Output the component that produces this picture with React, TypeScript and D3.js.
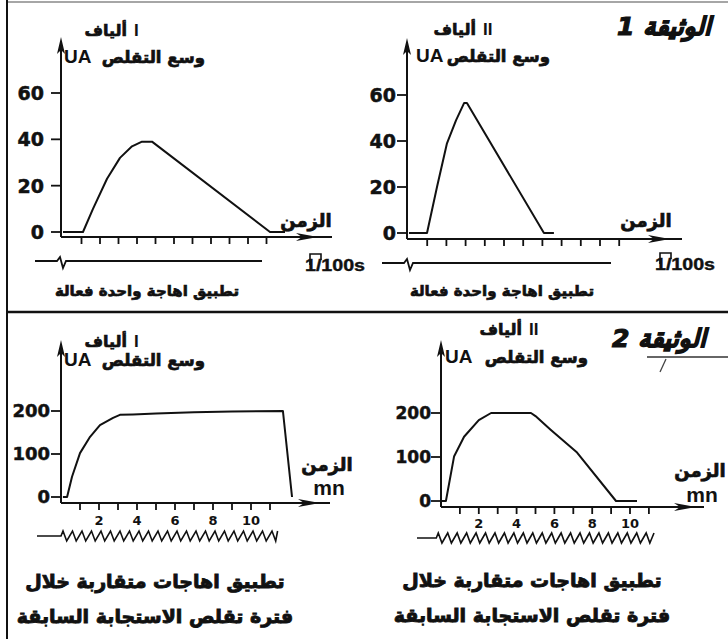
import React from 'react';
import * as d3 from 'd3';

// ---------- DATA ----------
// Document 1 : one effective stimulus, time in 1/100 s
const doc1TimesI = [0, 1.08, 1.62, 2.38, 3.08, 3.73, 4.27, 4.81, 11.19, 12.0];
const doc1ValuesI = [0, 0, 10, 23, 32, 37, 39, 39, 0, 0];
const doc1TimesII = [0.05, 0.99, 1.51, 2.03, 2.5, 2.92, 3.07, 7.08, 7.6];
const doc1ValuesII = [0, 0, 20, 39, 49, 56.5, 56.5, 0, 0];
const doc1YTicks = [0, 20, 40, 60];
const doc1XTicks = [1, 2, 3, 4, 5, 6, 7, 8, 9, 10, 11];

// Document 2 : close successive stimuli, time in mn
const doc2TimesI = [0.1, 0.32, 0.58, 1.0, 1.53, 2.05, 2.74, 3.1, 3.79, 5, 7, 9, 11.68, 12.16];
const doc2ValuesI = [0, 0, 47, 102, 140, 167, 184, 191, 192, 194, 197, 199, 200, 0];
const doc2TimesII = [0, 0.26, 0.69, 1.22, 2.0, 2.65, 4.76, 5.0, 5.8, 7.2, 9.26, 10.37];
const doc2ValuesII = [0, 0, 101, 146, 184, 200, 200, 193, 162, 110, 0, 0];
const doc2YTicks = [0, 100, 200];
const doc2XTicks = [1, 2, 3, 4, 5, 6, 7, 8, 9, 10, 11];
const doc2XTickLabels = [2, 4, 6, 8, 10];
const doc2StimTimesI = [0, 0.5, 1, 1.5, 2, 2.5, 3, 3.5, 4, 4.5, 5, 5.5, 6, 6.5, 7, 7.5, 8, 8.5, 9, 9.5, 10, 10.5, 11];
const doc2StimTimesII = [-0.25, 0.25, 0.75, 1.25, 1.75, 2.25, 2.75, 3.25, 3.75, 4.25, 4.75, 5.25, 5.75, 6.25, 6.75, 7.25, 7.75, 8.25, 8.75, 9.25, 9.75, 10.25, 10.75];

const titleDoc1 = 'الوثيقة 1';
const titleDoc2 = 'الوثيقة 2';
const fiberWord = 'ألياف';
const fiberI = 'I';
const fiberII = 'II';
const yLabel = 'وسع التقلص';
const yUnit = 'UA';
const xLabel = 'الزمن';
const xUnitDoc2 = 'mn';
const scaleDoc1 = '1/100s';
const stimDoc1 = 'تطبيق اهاجة واحدة فعالة';
const stimDoc2a = 'تطبيق اهاجات متقاربة خلال';
const stimDoc2b = 'فترة تقلص الاستجابة السابقة';

// ---------- STYLE ----------
const AR = "'DejaVu Sans', sans-serif";
const LA = "'DejaVu Sans', 'Liberation Sans', Arial, sans-serif";
const LS = "'Liberation Sans', Arial, sans-serif";
const INK = '#111';
const heavy = { stroke: INK, strokeWidth: 0.7, paintOrder: 'stroke' as const };

type Cfg = {
  times: number[]; values: number[];
  x0: number; unit: number; yDomain: [number, number]; yRange: [number, number];
  yAxisX: number; yTop: number; axisY: number; axisEnd: number; arrowTip: number;
  yTicks: number[]; yTickFont: number; yLabelRight: number;
  xTicks: number[]; xTickLabels?: number[]; xTickLabelY?: number;
  fiber: string; fiberEnd: number; fiberY: number;
  uaX: number; arEnd: number; labY: number;
  timeX: number; timeY: number; mnY?: number;
};

function Panel({ c }: { c: Cfg }) {
  const xs = d3.scaleLinear().domain([0, 1]).range([c.x0, c.x0 + c.unit]);
  const ys = d3.scaleLinear().domain(c.yDomain).range(c.yRange);
  const line = d3.line<number>().x((_, i) => xs(c.times[i])).y((v) => ys(v)).curve(d3.curveLinear);
  const tip = c.arrowTip;
  return (
    <g>
      {/* y axis */}
      <line x1={c.yAxisX} x2={c.yAxisX} y1={c.yTop + 4} y2={c.axisY} stroke={INK} strokeWidth={2} />
      <polygon points={`${c.yAxisX},${c.yTop} ${c.yAxisX - 4},${c.yTop + 17} ${c.yAxisX},${c.yTop + 13} ${c.yAxisX + 4},${c.yTop + 17}`} fill={INK} />
      {/* x axis */}
      <line x1={c.yAxisX} x2={c.axisEnd} y1={c.axisY} y2={c.axisY} stroke={INK} strokeWidth={2} />
      <polygon points={`${tip},${c.axisY} ${tip - 22},${c.axisY - 4} ${tip - 16},${c.axisY} ${tip - 22},${c.axisY + 4}`} fill={INK} />
      {/* y ticks */}
      {c.yTicks.map((t) => (
        <g key={'y' + t}>
          <line x1={c.yAxisX - 10} x2={c.yAxisX} y1={ys(t)} y2={ys(t)} stroke={INK} strokeWidth={1.8} />
          <text x={c.yLabelRight} y={ys(t)} dy="0.36em" textAnchor="end" fontFamily={LA} fontWeight="bold" fontSize={c.yTickFont} fill={INK} {...heavy} strokeWidth={0.5}>{t}</text>
        </g>
      ))}
      {/* x ticks */}
      {c.xTicks.map((t) => (
        <line key={'x' + t} x1={xs(t)} x2={xs(t)} y1={c.axisY} y2={c.axisY + 7} stroke={INK} strokeWidth={1.8} />
      ))}
      {c.xTickLabels && c.xTickLabels.map((t) => (
        <text key={'xl' + t} x={xs(t)} y={c.xTickLabelY} textAnchor="middle" fontFamily={LA} fontWeight="bold" fontSize={13} fill={INK}>{t}</text>
      ))}
      {/* curve */}
      <path d={line(c.values) || ''} fill="none" stroke={INK} strokeWidth={2} strokeLinejoin="round" />
      {/* labels */}
      <text x={c.fiberEnd} y={c.fiberY} textAnchor="end" fontFamily={AR} fontWeight="bold" fontSize={16} fill={INK} {...heavy}>{fiberWord}</text>
      <text x={c.fiberEnd + 7} y={c.fiberY} textAnchor="start" fontFamily={LS} fontWeight="bold" fontSize={17} fill={INK}>{c.fiber}</text>
      <text x={c.uaX} y={c.labY} textAnchor="start" fontFamily={LS} fontWeight="bold" fontSize={19} fill={INK}>{yUnit}</text>
      <text x={c.arEnd} y={c.labY} textAnchor="end" fontFamily={AR} fontWeight="bold" fontSize={16.5} fill={INK} {...heavy}>{yLabel}</text>
      <text x={c.timeX} y={c.timeY} textAnchor="middle" fontFamily={AR} fontWeight="bold" fontSize={18} fill={INK} {...heavy}>{xLabel}</text>
      {c.mnY !== undefined && (
        <text x={c.timeX + 2} y={c.mnY} textAnchor="middle" fontFamily={LS} fontWeight="bold" fontSize={21} fill={INK}>{xUnitDoc2}</text>
      )}
    </g>
  );
}

function SingleStim({ x1, x2, y, sx }: { x1: number; x2: number; y: number; sx: number }) {
  const p = d3.path();
  p.moveTo(x1, y);
  p.lineTo(sx, y);
  p.lineTo(sx + 3, y - 4);
  p.lineTo(sx + 6, y + 7);
  p.lineTo(sx + 9, y);
  p.lineTo(x2, y);
  return <path d={p.toString()} fill="none" stroke={INK} strokeWidth={1.8} />;
}

function Train({ times, x0, unit, xStart, y, amp, end }: { times: number[]; x0: number; unit: number; xStart: number; y: number; amp: number; end: number }) {
  const xs = d3.scaleLinear().domain([0, 1]).range([x0, x0 + unit]);
  const p = d3.path();
  p.moveTo(xStart, y);
  times.forEach((t, i) => {
    const a = xs(t);
    const b = xs(t + 0.3);
    if (i === 0) p.lineTo(a, y);
    p.lineTo(a + 2, y - amp);
    p.lineTo(b, y + amp);
  });
  p.lineTo(xs(end), y - amp);
  return <path d={p.toString()} fill="none" stroke={INK} strokeWidth={1.6} strokeLinejoin="miter" />;
}

function ScaleMark({ x, y }: { x: number; y: number }) {
  return (
    <g>
      <path d={`M${x + 5},${y - 6} V${y - 17} H${x + 16} V${y - 11}`} fill="none" stroke={INK} strokeWidth={1.6} />
      <text x={x} y={y} fontFamily={LS} fontWeight="bold" fontSize={16} textLength={60} lengthAdjust="spacingAndGlyphs" fill={INK} stroke={INK} strokeWidth={0.4}>{scaleDoc1}</text>
    </g>
  );
}

const cfgs: Cfg[] = [
  {
    times: doc1TimesI, values: doc1ValuesI, x0: 63, unit: 18.5, yDomain: [0, 60], yRange: [232, 93],
    yAxisX: 61, yTop: 37, axisY: 237, axisEnd: 332, arrowTip: 318,
    yTicks: doc1YTicks, yTickFont: 19, yLabelRight: 44, xTicks: doc1XTicks,
    fiber: fiberI, fiberEnd: 127, fiberY: 36, uaX: 64, arEnd: 205, labY: 63, timeX: 306, timeY: 227,
  },
  {
    times: doc1TimesII, values: doc1ValuesII, x0: 408, unit: 19.2, yDomain: [0, 60], yRange: [233, 95],
    yAxisX: 407, yTop: 38, axisY: 239, axisEnd: 682, arrowTip: 670,
    yTicks: doc1YTicks, yTickFont: 19, yLabelRight: 396, xTicks: doc1XTicks,
    fiber: fiberII, fiberEnd: 476, fiberY: 35, uaX: 416, arEnd: 550, labY: 62, timeX: 646, timeY: 227,
  },
  {
    times: doc2TimesI, values: doc2ValuesI, x0: 61, unit: 19, yDomain: [0, 200], yRange: [497, 411],
    yAxisX: 61, yTop: 340, axisY: 503, axisEnd: 330, arrowTip: 320,
    yTicks: doc2YTicks, yTickFont: 18, yLabelRight: 50, xTicks: doc2XTicks, xTickLabels: doc2XTickLabels, xTickLabelY: 525,
    fiber: fiberI, fiberEnd: 127, fiberY: 347, uaX: 64, arEnd: 205, labY: 366, timeX: 327, timeY: 471, mnY: 495,
  },
  {
    times: doc2TimesII, values: doc2ValuesII, x0: 441, unit: 18.9, yDomain: [0, 200], yRange: [501, 413],
    yAxisX: 441, yTop: 340, axisY: 507, axisEnd: 704, arrowTip: 696,
    yTicks: doc2YTicks, yTickFont: 17, yLabelRight: 431, xTicks: doc2XTicks, xTickLabels: doc2XTickLabels, xTickLabelY: 528,
    fiber: fiberII, fiberEnd: 522, fiberY: 335, uaX: 445, arEnd: 588, labY: 363, timeX: 700, timeY: 477, mnY: 502,
  },
];

export default function App() {
  return (
    <svg width={728} height={639} viewBox="0 0 728 639" style={{ position: 'absolute', left: 0, top: 0, background: '#fff' }}>
      <rect x={0} y={0} width={728} height={639} fill="#fff" />
      {/* frame */}
      <line x1={7} x2={728} y1={2} y2={2} stroke="#888" strokeWidth={1.5} />
      <line x1={7} x2={7} y1={0} y2={639} stroke={INK} strokeWidth={2} />
      <line x1={7} x2={728} y1={312} y2={312} stroke={INK} strokeWidth={2.5} />
      {/* titles */}
      <text x={664} y={35} textAnchor="middle" fontFamily={AR} fontWeight="bold" fontStyle="italic" fontSize={25} fill={INK} stroke={INK} strokeWidth={1.2} paintOrder="stroke">{titleDoc1}</text>
      <text x={659} y={347} textAnchor="middle" fontFamily={AR} fontWeight="bold" fontStyle="italic" fontSize={25} fill={INK} stroke={INK} strokeWidth={1.2} paintOrder="stroke">{titleDoc2}</text>
      <line x1={647} x2={728} y1={357} y2={357} stroke="#333" strokeWidth={1.5} />
      <line x1={666} x2={660} y1={359} y2={372} stroke="#444" strokeWidth={1.3} />

      {cfgs.map((c, i) => <Panel key={i} c={c} />)}

      {/* Document 1 stimulation */}
      <SingleStim x1={35} x2={262} y={261} sx={57} />
      <SingleStim x1={382} x2={611} y={263} sx={404} />
      <ScaleMark x={305} y={271} />
      <ScaleMark x={655} y={270} />
      <text x={147} y={296} textAnchor="middle" fontFamily={AR} fontWeight="bold" fontSize={15} fill={INK} {...heavy}>{stimDoc1}</text>
      <text x={502} y={296} textAnchor="middle" fontFamily={AR} fontWeight="bold" fontSize={15} fill={INK} {...heavy}>{stimDoc1}</text>

      {/* Document 2 stimulation trains */}
      <Train times={doc2StimTimesI} x0={61} unit={19} xStart={37} y={536} amp={5} end={11.4} />
      <Train times={doc2StimTimesII} x0={441} unit={18.9} xStart={417} y={538} amp={5} end={11.27} />
      <text x={155} y={588} textAnchor="middle" fontFamily={AR} fontWeight="bold" fontSize={19} fill={INK} {...heavy} strokeWidth={0.9}>{stimDoc2a}</text>
      <text x={155} y={623} textAnchor="middle" fontFamily={AR} fontWeight="bold" fontSize={19} fill={INK} {...heavy} strokeWidth={0.9}>{stimDoc2b}</text>
      <text x={532} y={587} textAnchor="middle" fontFamily={AR} fontWeight="bold" fontSize={19} fill={INK} {...heavy} strokeWidth={0.9}>{stimDoc2a}</text>
      <text x={532} y={622} textAnchor="middle" fontFamily={AR} fontWeight="bold" fontSize={19} fill={INK} {...heavy} strokeWidth={0.9}>{stimDoc2b}</text>
    </svg>
  );
}
